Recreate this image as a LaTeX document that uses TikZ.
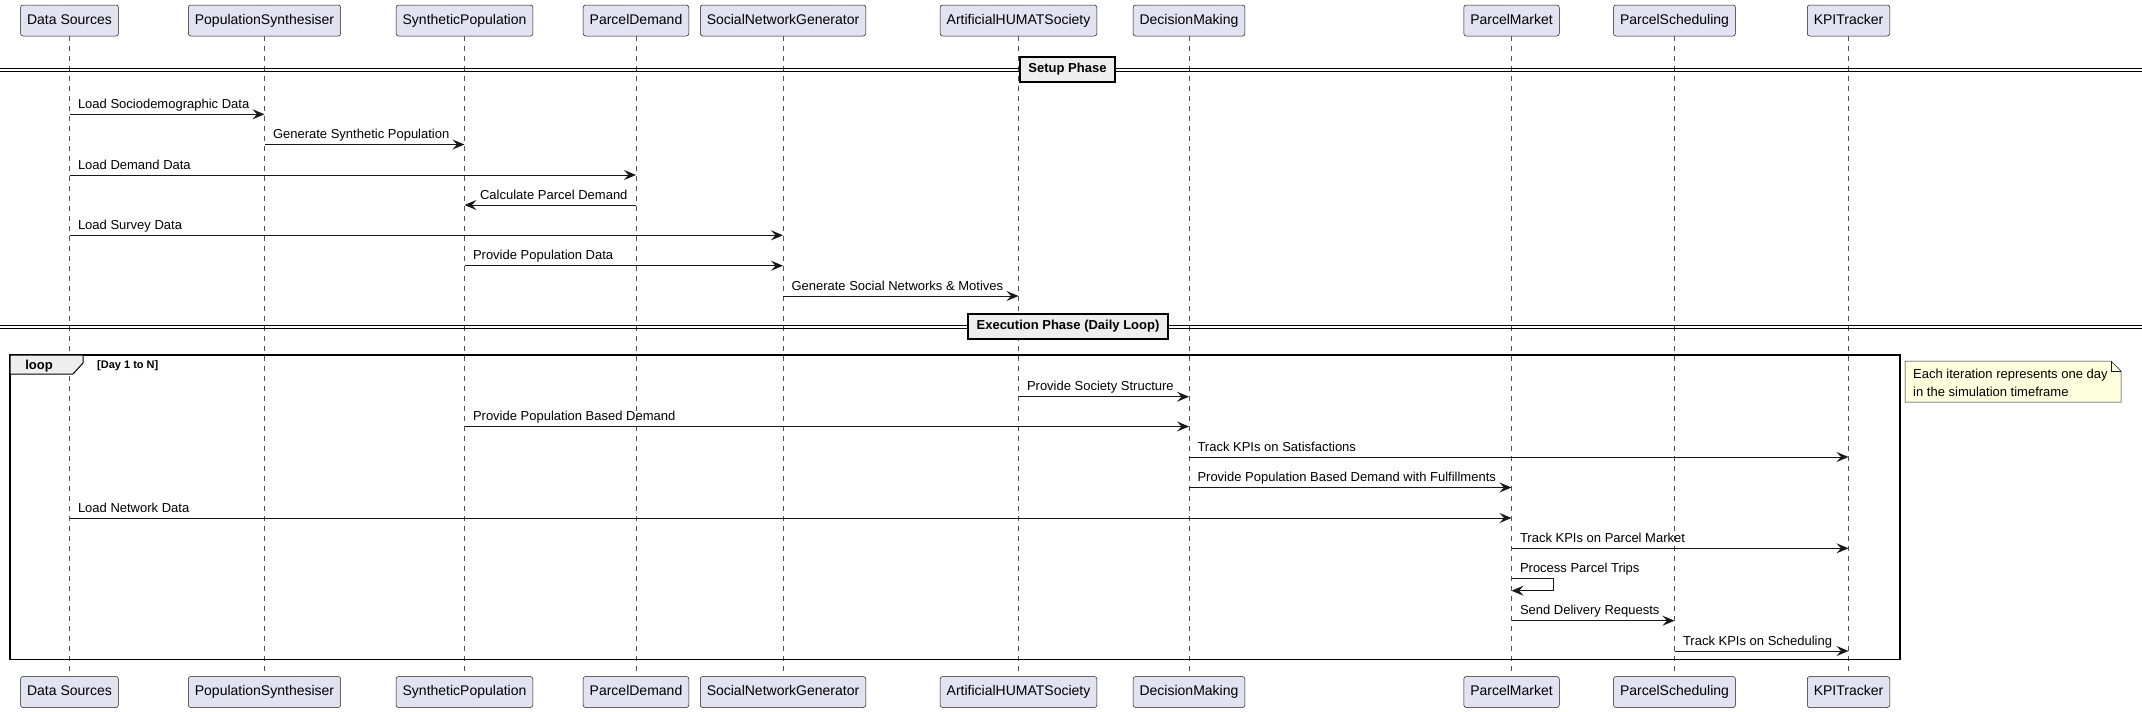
\documentclass[tikz,border=0pt]{standalone}
\usepackage{fontspec}
\setmainfont{Liberation Sans}
\usetikzlibrary{arrows.meta}
\definecolor{partfill}{HTML}{E2E2F0}
\definecolor{partline}{HTML}{181818}
\definecolor{divfill}{HTML}{EEEEEE}
\definecolor{notefill}{HTML}{FEFFDD}

\begin{document}
\begin{tikzpicture}[x=1pt, y=-1pt,
    part/.style={draw=partline, fill=partfill, rounded corners=2.5pt, line width=0.5pt,
        minimum height=31pt, inner xsep=6.5pt, text height=10pt, text depth=3pt,
        font=\fontsize{14}{16}\selectfont},
    lifeline/.style={draw=partline!75, line width=0.5pt, dash pattern=on 5pt off 5pt},
    msg/.style={draw=partline, line width=1pt, -{Stealth[length=12pt, width=10pt, inset=4.5pt]}},
    lbl/.style={pos=0, anchor=base west, xshift=8pt, yshift=6pt, inner sep=0pt, font=\fontsize{13}{15}\selectfont},
    lblL/.style={pos=0, anchor=base east, xshift=-8pt, yshift=6pt, inner sep=0pt, font=\fontsize{13}{15}\selectfont},
    divider/.style={draw, fill=divfill, line width=1.5pt, inner xsep=8.5pt, minimum height=25pt,
        text height=9.5pt, text depth=3pt, font=\bfseries\fontsize{13}{15}\selectfont}]
    \useasboundingbox (0,0) rectangle (2142,712);

    % participants, top and bottom
    \node[part] (ds) at (69.5, 20.5) {Data Sources};
    \node[part] (psyn) at (264.5, 20.5) {PopulationSynthesiser};
    \node[part] (spop) at (464.5, 20.5) {SyntheticPopulation};
    \node[part] (pdem) at (636, 20.5) {ParcelDemand};
    \node[part] (sng) at (783, 20.5) {SocialNetworkGenerator};
    \node[part] (ahs) at (1018.5, 20.5) {ArtificialHUMATSociety};
    \node[part] (dm) at (1189, 20.5) {DecisionMaking};
    \node[part] (pmkt) at (1511.5, 20.5) {ParcelMarket};
    \node[part] (psch) at (1674.5, 20.5) {ParcelScheduling};
    \node[part] (kpi) at (1848.5, 20.5) {KPITracker};

    \node[part] (dsB) at (69.5, 692) {Data Sources};
    \node[part] (psynB) at (264.5, 692) {PopulationSynthesiser};
    \node[part] (spopB) at (464.5, 692) {SyntheticPopulation};
    \node[part] (pdemB) at (636, 692) {ParcelDemand};
    \node[part] (sngB) at (783, 692) {SocialNetworkGenerator};
    \node[part] (ahsB) at (1018.5, 692) {ArtificialHUMATSociety};
    \node[part] (dmB) at (1189, 692) {DecisionMaking};
    \node[part] (pmktB) at (1511.5, 692) {ParcelMarket};
    \node[part] (pschB) at (1674.5, 692) {ParcelScheduling};
    \node[part] (kpiB) at (1848.5, 692) {KPITracker};

    \foreach \p in {ds, psyn, spop, pdem, sng, ahs, dm, pmkt, psch, kpi}
        \draw[lifeline] (\p) -- (\p B);

    % setup phase
    \draw[line width=1pt] (0,68.5) -- (2142,68.5) (0,71.5) -- (2142,71.5);
    \node[divider] (setup) at (1067.5, 69.5) {Setup Phase};

    \draw[msg] (ds |- 0,114.3) -- node[lbl]{Load Sociodemographic Data} (psyn |- 0,114.3);
    \draw[msg] (psyn |- 0,144.5) -- node[lbl]{Generate Synthetic Population} (spop |- 0,144.5);
    \draw[msg] (ds |- 0,175) -- node[lbl]{Load Demand Data} (pdem |- 0,175);
    \draw[msg] (pdem |- 0,205) -- node[lblL]{Calculate Parcel Demand} (spop |- 0,205);
    \draw[msg] (ds |- 0,235.3) -- node[lbl]{Load Survey Data} (sng |- 0,235.3);
    \draw[msg] (spop |- 0,265.7) -- node[lbl]{Provide Population Data} (sng |- 0,265.7);
    \draw[msg] (sng |- 0,296) -- node[lbl]{Generate Social Networks \& Motives} (ahs |- 0,296);

    % execution phase
    \draw[line width=1pt] (0,325.5) -- (2142,325.5) (0,328.5) -- (2142,328.5);
    \node[divider] (exec) at (1068, 326.5) {Execution Phase (Daily Loop)};

    % loop frame
    \draw[line width=1.5pt] (10,355) rectangle (1900,659.7);
    \draw[fill=divfill, line width=1pt] (10,355) -- (83,355) -- (83,363) -- (73,374) -- (10,374) -- cycle;
    \node[anchor=base, inner sep=0pt, font=\bfseries\fontsize{13}{15}\selectfont] (looptag) at (39,369) {loop};
    \node[anchor=base west, inner sep=0pt, font=\bfseries\fontsize{11}{13}\selectfont] (loopcond) at (97,368) {[Day 1 to N]};

    \draw[msg] (ahs |- 0,396.7) -- node[lbl]{Provide Society Structure} (dm |- 0,396.7);
    \draw[msg] (spop |- 0,426.5) -- node[lbl]{Provide Population Based Demand} (dm |- 0,426.5);
    \draw[msg] (dm |- 0,457) -- node[lbl]{Track KPIs on Satisfactions} (kpi |- 0,457);
    \draw[msg] (dm |- 0,487.5) -- node[lbl]{Provide Population Based Demand with Fulfillments} (pmkt |- 0,487.5);
    \draw[msg] (ds |- 0,518) -- node[lbl]{Load Network Data} (pmkt |- 0,518);
    \draw[msg] (pmkt |- 0,548.3) -- node[lbl]{Track KPIs on Parcel Market} (kpi |- 0,548.3);
    \draw[msg] (pmkt |- 0,578.3) -- node[lbl]{Process Parcel Trips} ++(42,0) |- (pmkt |- 0,590.7);
    \draw[msg] (pmkt |- 0,620.7) -- node[lbl]{Send Delivery Requests} (psch |- 0,620.7);
    \draw[msg] (psch |- 0,651) -- node[lbl]{Track KPIs on Scheduling} (kpi |- 0,651);

    % note
    \draw[draw=partline, fill=notefill, line width=0.5pt] (1905,361) -- (2111,361) -- (2121,371) -- (2121,402) -- (1905,402) -- cycle;
    \draw[draw=partline, line width=0.5pt] (2111,361) -- (2111,371) -- (2121,371);
    \node[anchor=base west, inner sep=0pt, align=left, font=\fontsize{13}{18}\selectfont] (note) at (1913,396)
        {Each iteration represents one day\\in the simulation timeframe};
\end{tikzpicture}
\end{document}
